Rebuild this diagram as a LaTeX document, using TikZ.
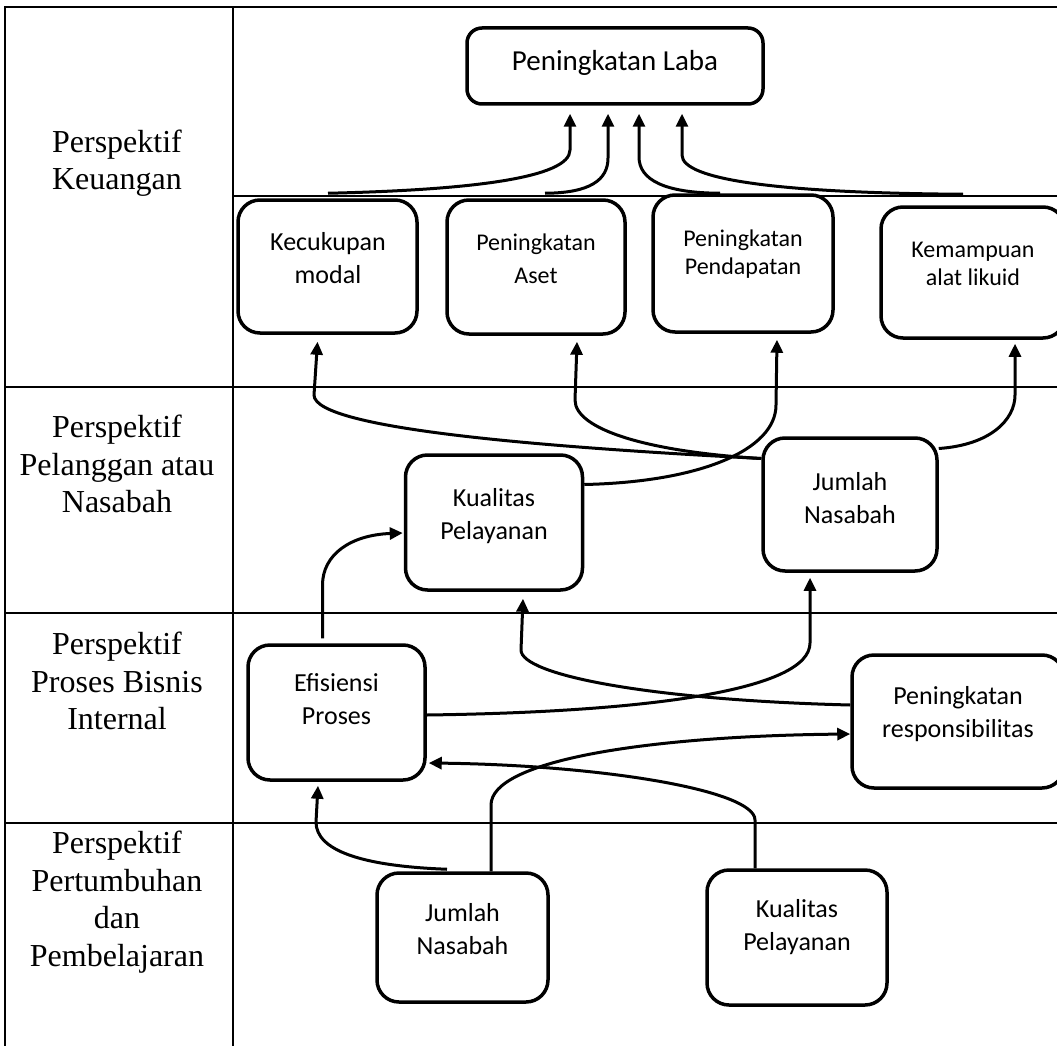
\documentclass[tikz,border=0pt]{standalone}
\usepackage{fontspec}
\setmainfont{Liberation Serif}
\newfontfamily\boxfont{Carlito}
\usetikzlibrary{arrows.meta,calc}
\begin{document}
\begin{tikzpicture}[x=1pt,y=-1pt,
  tline/.style={line width=2pt},
  bx/.style={draw, line width=3.5pt, rounded corners=22pt, inner sep=0pt},
  ltxt/.style={font=\boxfont\fontsize{29}{34}\selectfont, align=center, inner sep=0pt},
  btxt/.style={font=\boxfont\fontsize{26}{33}\selectfont, align=center, inner sep=0pt},
  stxt/.style={font=\boxfont\fontsize{24}{28}\selectfont, align=center, inner sep=0pt},
  ptxt/.style={font=\fontsize{32}{37.5}\selectfont, align=center, inner sep=0pt},
  conn/.style={line width=3pt},
  arr/.style={conn, -{Triangle[length=13pt,width=12pt]}},
]
\useasboundingbox (0,0) rectangle (1057,1046);
\clip (0,0) rectangle (1057,1046);
\fill[white] (0,0) rectangle (1057,1046);
% table
\draw[tline] (5,1046) -- (5,7) -- (1057,7);
\draw[tline] (233,7) -- (233,1046);
\draw[tline] (233,196) -- (1057,196);
\draw[tline] (5,387) -- (1057,387);
\draw[tline] (5,613) -- (1057,613);
\draw[tline] (5,823) -- (1057,823);
% row labels
\node[ptxt] (p1) at (117,163) {Perspektif\\Keuangan};
\node[ptxt] (p2) at (117,464) {Perspektif\\Pelanggan atau\\Nasabah};
\node[ptxt] (p3) at (117,681) {Perspektif\\Proses Bisnis\\Internal};
\node[ptxt] (p4) at (117,902) {Perspektif\\Pertumbuhan\\dan\\Pembelajaran};
% boxes
\node[bx, rounded corners=15pt, minimum width=296pt, minimum height=76pt] (laba) at (615,66) {};
\node[bx, minimum width=179pt, minimum height=133pt] (kec) at (327.5,266.5) {};
\node[bx, minimum width=178pt, minimum height=134pt] (aset) at (536,267) {};
\node[bx, minimum width=180pt, minimum height=137pt] (pend) at (743,263.5) {};
\node[bx, minimum width=184pt, minimum height=131pt] (kem) at (973,272.5) {};
\node[bx, minimum width=177pt, minimum height=135pt] (kual) at (494,522.5) {};
\node[bx, minimum width=174pt, minimum height=133pt] (jum) at (850,504.5) {};
\node[bx, minimum width=177pt, minimum height=135pt] (efi) at (336.5,712.5) {};
\node[bx, minimum width=212pt, minimum height=133pt] (resp) at (958,721.5) {};
\node[bx, minimum width=171pt, minimum height=129pt] (jumb) at (462.5,937.5) {};
\node[bx, minimum width=180pt, minimum height=135pt] (kualb) at (797,937.5) {};
% box texts
\node[ltxt] (labat) at (615,63) {Peningkatan Laba};
\node[btxt] (kect) at (328,258.5) {Kecukupan\\modal};
\node[font=\boxfont\fontsize{24}{33}\selectfont, align=center, inner sep=0pt] (asett) at (536,258.5) {Peningkatan\\Aset};
\node[stxt] (pendt) at (743,254) {Peningkatan\\Pendapatan};
\node[stxt] (kemt) at (973,264) {Kemampuan\\alat likuid};
\node[btxt] (kualt) at (494,516) {Kualitas\\Pelayanan};
\node[btxt] (jumt) at (850,498) {Jumlah\\Nasabah};
\node[btxt] (efit) at (336.5,699) {Efisiensi\\Proses};
\node[btxt] (respt) at (958,714) {Peningkatan\\responsibilitas};
\node[btxt] (jumbt) at (462.5,929) {Jumlah\\Nasabah};
\node[btxt] (kualbt) at (797,927) {Kualitas\\Pelayanan};
% connectors to Peningkatan Laba
\draw[arr] ($(kec.north)+(0.5,-5)$) .. controls (470,190) and (570,178) .. (570,150) -- ($(laba.south)+(-45,8)$);
\draw[arr] ($(aset.north)+(9,-5)$) .. controls (590,193) and (608,180) .. (608,158) -- ($(laba.south)+(-7,8)$);
\draw[arr] ($(pend.north)+(-23,0)$) .. controls (665,193) and (639,180) .. (639,157) -- ($(laba.south)+(24,8)$);
\draw[arr] ($(kem.north)+(-10,-11)$) .. controls (780,193) and (682,180) .. (682,155) -- ($(laba.south)+(67,8)$);
% customer level
\draw[arr] ($(jum.west)+(0,-46)$) .. controls (560,448) and (314,430) .. (314,395) -- ($(kec.south)+(-10,7)$);
\draw[arr] ($(jum.west)+(0,-46)$) .. controls (650,452) and (575,430) .. (575,400) -- ($(aset.south)+(41,6)$);
\draw[arr] ($(kual.east)+(0,-38)$) .. controls (700,482) and (776,450) .. (776,405) -- ($(pend.south)+(34,6)$);
\draw[arr] ($(jum.east)+(0,-56)$) .. controls (990,445) and (1015,420) .. (1015,395) -- ($(kem.south)+(42,4)$);
% internal process level
\draw[arr] ($(efi.north)+(-14,-5)$) -- (322.5,585) .. controls (322.5,555) and (350,535) .. ($(kual.west)+(-1,10.5)$);
\draw[arr] ($(resp.west)+(0,-16.5)$) .. controls (650,700) and (521,675) .. (521,650) -- ($(kual.south)+(29,7)$);
\draw[arr] ($(efi.east)+(0,2.5)$) .. controls (650,712) and (810,690) .. (810,643) -- ($(jum.south)+(-40,5)$);
% learning level
\draw[arr] ($(jumb.north)+(28.5,0)$) -- (491,805) .. controls (491,760) and (650,736) .. ($(resp.west)+(0,12.5)$);
\draw[arr] ($(kualb.north)+(-42,0)$) -- (755,820) .. controls (755,790) and (600,765) .. ($(efi.east)+(2,50.5)$);
\draw[arr] ($(jumb.north)+(-15.5,-2)$) .. controls (360,866) and (316,850) .. (316,822) -- ($(efi.south)+(-18.5,4)$);
\end{tikzpicture}
\end{document}
